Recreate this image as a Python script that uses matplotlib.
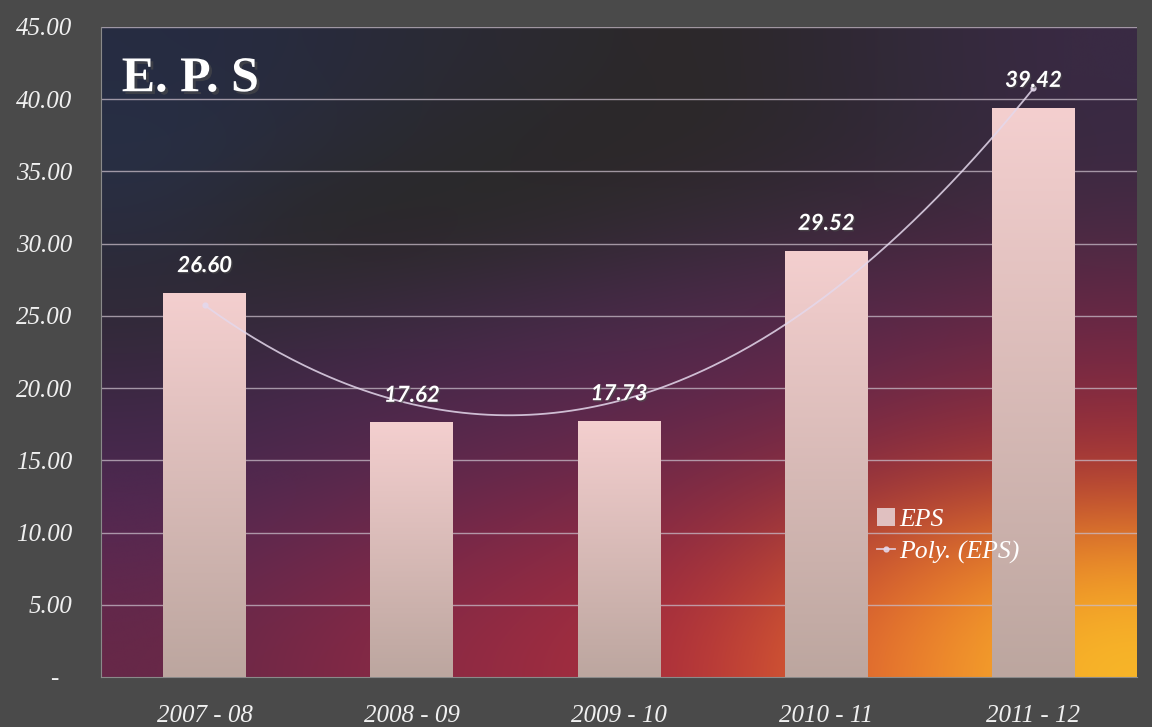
import numpy as np
import matplotlib
matplotlib.use("Agg")
import matplotlib.pyplot as plt
from matplotlib.colors import to_rgb
import matplotlib.patheffects as pe

# data
years = ["2007 - 08", "2008 - 09", "2009 - 10", "2010 - 11", "2011 - 12"]
eps = [26.60, 17.62, 17.73, 29.52, 39.42]
yticks = [0, 5, 10, 15, 20, 25, 30, 35, 40, 45]

fig = plt.figure(figsize=(11.52, 7.27), dpi=100)
fig.patch.set_facecolor("#4a4a4a")
ax = fig.add_axes([0.0877, 0.0688, 0.8993, 0.8941])

x = np.arange(len(years))
ax.set_xlim(-0.5, len(years) - 0.5)
ax.set_ylim(0, 45)

# sunset background (rows top -> bottom, cols left -> right)
bg_rows = [
    ["#262c42", "#282b3e", "#2a2a36", "#2c2a30", "#2c2828", "#2e2832", "#342a3c", "#3a2a44"],
    ["#283046", "#2a2c3a", "#2a2a2e", "#2a2828", "#2c2828", "#2e2830", "#342a3a", "#3a2a42"],
    ["#2a2c3e", "#2a2828", "#2a2828", "#2e2a2e", "#342a36", "#3a2a3c", "#42283e", "#4a2a44"],
    ["#302a36", "#342a3a", "#3a2a40", "#422a46", "#4a2a4a", "#52284a", "#5c2848", "#662846"],
    ["#3c2844", "#44284a", "#4c284c", "#54284e", "#5c284c", "#68284a", "#762a44", "#842a40"],
    ["#4a2850", "#52284e", "#5e284c", "#6a284a", "#762a46", "#8a2c40", "#a03438", "#b03a34"],
    ["#5c2850", "#6a284c", "#7a2848", "#8a2a44", "#982c40", "#b84234", "#e06c2c", "#ec8a28"],
    ["#662848", "#782846", "#8c2a44", "#9c2c40", "#b0303a", "#d85a30", "#f08a2c", "#f8b828"],
]
bg = np.array([[to_rgb(c) for c in row] for row in bg_rows])
ax.imshow(bg, extent=[-0.5, len(years) - 0.5, 0, 45], aspect="auto",
          interpolation="bicubic", zorder=0)

# grid
for t in yticks[1:]:
    ax.axhline(t, color="#c8bcc8", lw=1.0, alpha=0.75, zorder=1)

# bars with vertical gradient
grad = np.linspace(0, 1, 256)[:, None]
top_c = np.array(to_rgb("#f4cfcf"))
bot_c = np.array(to_rgb("#bca69f"))
bar_img = top_c * (1 - grad[..., None]) + bot_c * grad[..., None]
bars = ax.bar(x, eps, width=0.40, color="#e0c0c0", edgecolor="none", zorder=2)
for b in bars:
    im = ax.imshow(bar_img, extent=[b.get_x(), b.get_x() + b.get_width(), 0, b.get_height()],
                   aspect="auto", zorder=3)
    im.set_clip_path(b)

# polynomial trendline
coef = np.polyfit(x, eps, 2)
xs = np.linspace(0, len(years) - 1, 200)
trend, = ax.plot(xs, np.polyval(coef, xs), color="#e4d8ec", lw=1.3, alpha=0.85, zorder=4,
                 marker="o", markersize=3.5, markevery=[0, -1])

# data labels
for xi, v in zip(x, eps):
    ax.annotate(f"{v:.2f}", (xi, v), xytext=(0, 12), textcoords="offset points",
                ha="center", va="bottom", color="white", fontsize=16,
                fontfamily="Lato", fontweight="bold", fontstyle="italic", zorder=5,
                path_effects=[pe.withSimplePatchShadow(offset=(1, -1), alpha=0.6)])

# title inside
ax.text(0.02, 0.955, "E. P. S", transform=ax.transAxes, ha="left", va="top",
        color="white", fontsize=36, fontfamily="Liberation Serif", fontweight="bold",
        zorder=6, path_effects=[pe.withSimplePatchShadow(offset=(2, -2), alpha=0.6)])

# axes styling
ax.set_yticks(yticks)
ax.set_yticklabels(["-  "] + [f"{t:.2f}" for t in yticks[1:]])
ax.set_xticks(x)
ax.set_xticklabels(years)
ax.tick_params(length=0)
ax.tick_params(axis="y", pad=21)
ax.tick_params(axis="x", pad=20)
for lab in ax.get_xticklabels() + ax.get_yticklabels():
    lab.set_fontfamily("Liberation Serif")
    lab.set_fontstyle("italic")
    lab.set_fontsize(18)
    lab.set_color("#f0f0f0")
for s in ["top", "right"]:
    ax.spines[s].set_visible(False)
ax.spines["left"].set_color("#8a8a8a")
ax.spines["bottom"].set_color("#8a8a8a")

leg = ax.legend([bars, trend], ["EPS", "Poly. (EPS)"], loc="upper left",
                bbox_to_anchor=(0.727, 0.295), frameon=False, handlelength=0.7,
                handletextpad=0.15, labelspacing=0.35,
                prop={"family": "Liberation Serif", "style": "italic", "size": 18.5})
for t in leg.get_texts():
    t.set_color("white")

fig.savefig("out.png", dpi=100, facecolor=fig.get_facecolor())
